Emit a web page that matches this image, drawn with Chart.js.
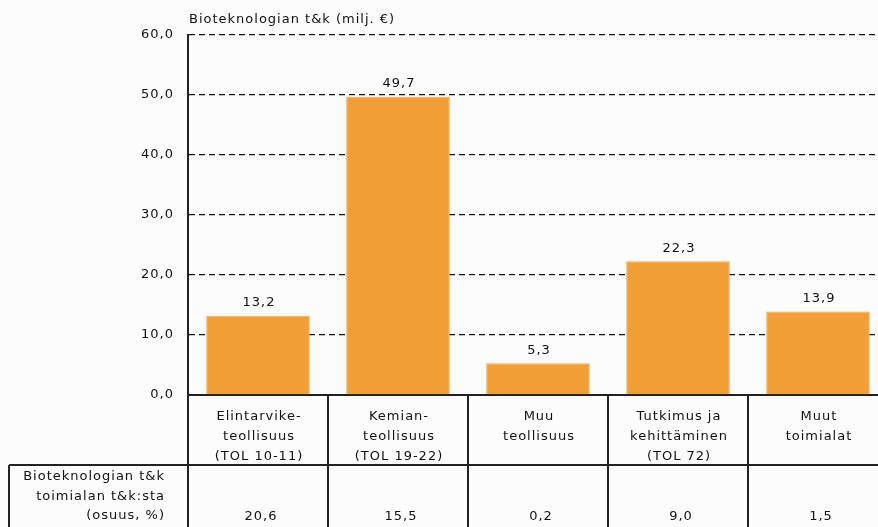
<!DOCTYPE html>
<html>
<head>
<meta charset="utf-8">
<title>Bioteknologian t&amp;k toimialoittain</title>
<script src="https://cdn.jsdelivr.net/npm/chart.js@4"></script>
<style>
  html, body { margin: 0; padding: 0; background: #fcfcfc; overflow: hidden; }
  #wrap { width: 900px; height: 527px; }
</style>
</head>
<body>
<div id="wrap"><canvas id="bioChart" width="900" height="527"></canvas></div>
<script>
// Chart data
const categories = [
    ['Elintarvike-', 'teollisuus', '(TOL 10-11)'],
    ['Kemian-', 'teollisuus', '(TOL 19-22)'],
    ['Muu', 'teollisuus'],
    ['Tutkimus ja', 'kehittäminen', '(TOL 72)'],
    ['Muut', 'toimialat']
];
const spending = [13.2, 49.7, 5.3, 22.3, 13.9];   // milj. €
const shares = [20.6, 15.5, 0.2, 9.0, 1.5];        // osuus, %
const yMin = 0, yMax = 60, yStep = 10;
const chartTitle = 'Bioteknologian t&k (milj. €)';
const shareLabel = ['Bioteknologian t&k', 'toimialan t&k:sta', '(osuus, %)'];

const FONT = '13px "DejaVu Sans"';
const TEXT = '#111111';
const LINE = '#222222';
const BG = '#fcfcfc';

function fmt(v) {
    return v.toFixed(1).replace('.', ',');
}

// Draws title, value labels and the table under the bars
const tablePlugin = {
    id: 'table',
    beforeDraw(chart) {
        const ctx = chart.ctx;
        ctx.save();
        ctx.fillStyle = BG;
        ctx.fillRect(0, 0, chart.width, chart.height);
        ctx.restore();
        ctx.letterSpacing = '1px';
    },
    afterDatasetsDraw(chart) {
        const ctx = chart.ctx;
        const meta = chart.getDatasetMeta(0);
        ctx.save();
        ctx.font = FONT;
        ctx.letterSpacing = '1px';
        ctx.fillStyle = TEXT;
        ctx.textAlign = 'center';
        ctx.textBaseline = 'middle';
        meta.data.forEach((bar, i) => {
            ctx.fillText(fmt(spending[i]), bar.x + 1, bar.y - 13);
        });
        ctx.restore();
    },
    afterDraw(chart) {
        const ctx = chart.ctx;
        const area = chart.chartArea;
        const x = chart.scales.x;
        const n = categories.length;
        const colW = (area.right - area.left) / n;
        const bottom = area.bottom;
        const rowY = bottom + 70;
        const end = chart.height;

        ctx.save();
        ctx.font = FONT;
        ctx.letterSpacing = '1px';
        ctx.fillStyle = TEXT;

        // title
        ctx.textAlign = 'left';
        ctx.textBaseline = 'middle';
        ctx.fillText(chartTitle, area.left + 1, 20);

        // table lines
        ctx.strokeStyle = LINE;
        ctx.lineWidth = 2;
        ctx.beginPath();
        ctx.moveTo(area.left, bottom);
        ctx.lineTo(area.left, end);
        for (let i = 1; i <= n; i++) {
            const bx = Math.round(area.left + i * colW);
            ctx.moveTo(bx, bottom);
            ctx.lineTo(bx, end);
        }
        ctx.moveTo(9, rowY);
        ctx.lineTo(area.right, rowY);
        ctx.moveTo(9, rowY);
        ctx.lineTo(9, end);
        ctx.stroke();

        // category labels
        ctx.textAlign = 'center';
        categories.forEach((lines, i) => {
            const cx = x.getPixelForValue(i) + 1;
            lines.forEach((t, j) => ctx.fillText(t, cx, bottom + 22 + 20 * j));
            ctx.fillText(fmt(shares[i]), cx + 2, bottom + 122);
        });

        // row label
        ctx.textAlign = 'right';
        shareLabel.forEach((t, j) => ctx.fillText(t, 165, bottom + 82 + 19.5 * j));

        ctx.restore();
    }
};

const ctx = document.getElementById('bioChart').getContext('2d');
const bioChart = new Chart(ctx, {
    type: 'bar',
    data: {
        labels: categories,
        datasets: [{
            data: spending,
            backgroundColor: '#f29e36',
            borderColor: '#f4ab55',
            borderWidth: 1,
            barPercentage: 0.74,
            categoryPercentage: 1
        }]
    },
    options: {
        responsive: false,
        animation: false,
        devicePixelRatio: 1,
        layout: { padding: { left: 0, top: 35, right: 12, bottom: 132 } },
        plugins: {
            legend: { display: false },
            tooltip: { enabled: false }
        },
        scales: {
            x: {
                ticks: { display: false },
                grid: { display: false, drawTicks: false },
                border: { display: true, color: LINE, width: 2 },
                afterFit: s => { s.height = 0; }
            },
            y: {
                min: yMin,
                max: yMax,
                ticks: {
                    stepSize: yStep,
                    padding: 14,
                    color: TEXT,
                    font: { family: 'DejaVu Sans', size: 13 },
                    callback: v => fmt(v)
                },
                grid: { color: '#111111', lineWidth: 1.3, drawTicks: false },
                border: { display: true, color: LINE, width: 2, dash: [6, 4] },
                afterFit: s => { s.width = 188; }
            }
        }
    },
    plugins: [tablePlugin]
});
</script>
</body>
</html>
